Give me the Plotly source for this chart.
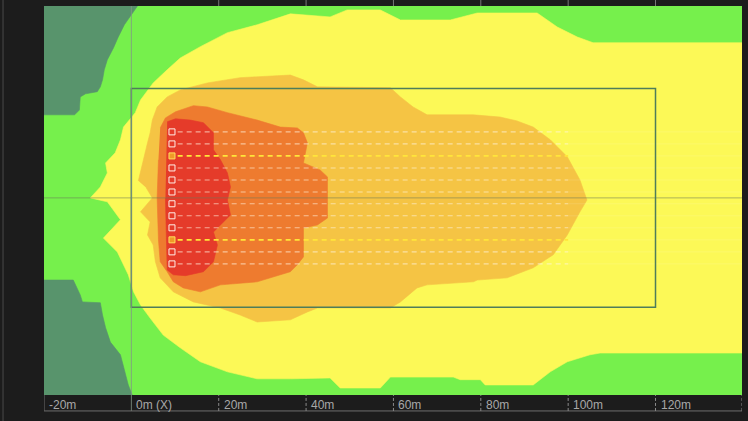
import plotly.graph_objects as go

# ---------------- data (metres) ----------------
# contour boundaries of the illuminance zones
dark_top_x = [-21, 1.8, 1.4, 0.0, -1.6, -3.0, -4.1, -5.5, -6.2, -6.6, -7.1, -7.8, -10.5, -11.7, -11.9, -13.0, -21]
dark_top_y = [46, 46, 43.9, 41.9, 39.6, 36.8, 34.3, 31.6, 29.3, 27.0, 25.4, 24.3, 23.8, 23.1, 20.1, 19.0, 19.0]

dark_bot_x = [-21, -13.3, -11.7, -11.2, -7.1, -6.6, -5.9, -4.8, -2.5, -1.4, -0.7, 0.2, 0.5, -21]
dark_bot_y = [-18.8, -18.8, -22.2, -23.8, -24.0, -26.8, -29.7, -33.0, -35.9, -39.8, -42.8, -45.1, -46, -46]

yellow_x = [141, 105.7, 102.1, 97.5, 92.9, 79.2, 73.0, 61.6, 57.0, 49.4, 45.5, 36.4, 28.8, 22.0, 15.8,
            11.2, 8.2, 5.0, 2.1, 0.9, -1.8, -2.5, -3.7, -5.9, -5.5, -7.1, -9.4, -5.5, -2.5, -6.4,
            -3.2, -2.1, -0.7, 0.5, 2.1, 4.3, 7.3, 11.2, 15.8, 22.0, 28.8, 36.4, 45.5, 47.8, 57.0,
            59.3, 73.7, 75.3, 79.9, 81.0, 92.0, 95.9, 99.8, 105.0, 107.3, 141]
yellow_y = [35.5, 35.5, 36.8, 39.1, 42.3, 42.3, 40.7, 40.7, 43.0, 43.0, 41.4, 42.1, 39.6, 37.8, 34.6,
            32.0, 29.3, 26.3, 22.4, 19.5, 16.2, 13.3, 10.3, 8.0, 5.7, 2.5, 0.0, -0.9, -5.0, -9.2,
            -12.4, -14.6, -17.6, -21.5, -24.5, -27.5, -31.4, -34.3, -37.5, -39.8, -41.4, -41.4, -41.2, -43.5, -43.5,
            -41.0, -41.0, -41.6, -41.6, -42.8, -42.8, -39.8, -37.5, -35.9, -35.5, -35.5]

lorange_x = [1.6, 2.7, 3.7, 4.3, 4.8, 5.9, 8.2, 11.2, 17.4, 24.9, 36.4, 39.4, 42.6, 59.3, 61.6, 64.5,
             67.7, 78.3, 84.4, 88.3, 92.0, 95.9, 99.8, 102.7, 104.3, 102.7, 99.8, 96.6, 92.0, 86.0,
             79.2, 78.3, 67.7, 65.4, 61.6, 59.3, 42.6, 40.3, 36.4, 28.8, 24.9, 20.4, 14.2, 9.6,
             6.6, 5.5, 5.0, 3.7, 4.3, 2.1, 4.8, 3.4]
lorange_y = [3.9, 8.7, 12.6, 14.9, 17.8, 20.8, 23.1, 24.7, 26.3, 27.5, 28.1, 27.0, 25.4, 25.2, 23.1, 20.8,
             19.0, 19.0, 18.5, 17.6, 16.2, 13.3, 9.4, 4.1, -0.5, -3.2, -8.5, -13.0, -16.0, -18.3,
             -18.8, -19.2, -19.9, -20.6, -23.8, -25.2, -25.2, -26.1, -27.9, -28.4, -26.8, -25.2, -23.8, -21.5,
             -18.3, -14.6, -10.8, -8.5, -5.5, -3.2, 0.0, 2.3]

orange_x = [6.6, 7.8, 10.1, 14.2, 17.4, 22.0, 28.8, 34.1, 38.0, 39.4, 40.3, 39.4, 43.2, 44.9, 44.9,
            42.6, 39.4, 39.4, 38.0, 36.4, 28.8, 20.4, 15.8, 11.9, 9.6, 8.2, 6.6, 6.2, 5.9, 6.2]
orange_y = [16.0, 18.3, 19.7, 21.1, 20.8, 19.5, 17.8, 16.2, 16.0, 14.9, 12.6, 8.0, 6.4, 4.8, -4.6,
            -6.2, -6.9, -13.5, -15.3, -16.9, -19.2, -19.9, -21.5, -20.6, -19.2, -16.9, -14.6, -9.6, 0.0, 8.7]

red_x = [8.2, 10.1, 13.5, 16.5, 18.8, 18.8, 20.4, 22.0, 22.7, 22.0, 22.7, 20.4, 18.8, 19.7, 18.8,
         16.5, 12.4, 9.6, 8.2, 7.8]
red_y = [17.4, 18.1, 17.8, 17.2, 14.9, 11.0, 8.7, 5.7, 2.5, -0.5, -3.9, -6.2, -7.8, -10.8, -14.6,
         -16.9, -17.8, -17.6, -16.5, 0.0]

# luminaires
fixture_x = 9.3
fixture_y = [15.1, 12.35, 9.6, 6.85, 4.1, 1.35, -1.35, -4.1, -6.85, -9.6, -12.35, -15.1]
highlighted = [2, 9]
beam_dash_end_x = 100
beam_end_x = 140

# field outline (metres)
field_x = [0, 120]
field_y = [-25, 25]

tick_vals = [-20, 0, 20, 40, 60, 80, 100, 120]
tick_text = ["-20m", "0m (X)", "20m", "40m", "60m", "80m", "100m", "120m"]

x_range = [-20, 139.8]
y_range = [-45.1, 43.9]

# ---------------- styles ----------------
C_DARK = "#58946c"
C_GREEN = "#76f04c"
C_YELLOW = "#fcf957"
C_LORANGE = "#f5c444"
C_ORANGE = "#ee7b2f"
C_RED = "#e53b2a"
BG = "#1c1c1c"

fig = go.Figure()

def zone(xs, ys, color):
    fig.add_trace(go.Scatter(x=xs, y=ys, mode="lines", fill="toself", fillcolor=color,
                             line=dict(width=0.6, color=color), hoverinfo="skip", showlegend=False))

zone(dark_top_x, dark_top_y, C_DARK)
zone(dark_bot_x, dark_bot_y, C_DARK)
zone(yellow_x, yellow_y, C_YELLOW)
zone(lorange_x, lorange_y, C_LORANGE)
zone(orange_x, orange_y, C_ORANGE)
zone(red_x, red_y, C_RED)

# beam lines
for i, fy in enumerate(fixture_y):
    hl = i in highlighted
    fig.add_trace(go.Scatter(
        x=[beam_dash_end_x, beam_end_x], y=[fy, fy], mode="lines",
        line=dict(color="rgba(255,255,255,0.12)", width=1),
        hoverinfo="skip", showlegend=False))
    fig.add_trace(go.Scatter(
        x=[fixture_x + 1.3, beam_dash_end_x], y=[fy, fy], mode="lines",
        line=dict(color="#ffe53a" if hl else "rgba(255,245,225,0.6)", width=1.6 if hl else 1.1,
                  dash="5px,4px"),
        hoverinfo="skip", showlegend=False))

fig.add_trace(go.Scatter(
    x=[fixture_x] * len(fixture_y), y=fixture_y, mode="markers",
    marker=dict(symbol="square", size=6,
                color=["#f09a28" if i in highlighted else C_RED for i in range(len(fixture_y))],
                line=dict(width=1, color=["#ffe060" if i in highlighted else "#fff0e8"
                                          for i in range(len(fixture_y))])),
    hoverinfo="skip", showlegend=False))

shapes = []
# centre line
shapes.append(dict(type="line", xref="x", yref="y", x0=x_range[0], x1=x_range[1], y0=0, y1=0,
                   line=dict(color="rgba(110,120,90,0.55)", width=1), layer="above"))
# field rectangle
shapes.append(dict(type="rect", xref="x", yref="y", x0=field_x[0], x1=field_x[1],
                   y0=field_y[0], y1=field_y[1], line=dict(color="#4e7d5a", width=1.5)))
# 0m line full height into label band
shapes.append(dict(type="line", xref="x", yref="paper", x0=0, x1=0, y0=-0.041, y1=1,
                   line=dict(color="rgba(130,150,135,0.8)", width=1)))
# label band bottom line
shapes.append(dict(type="line", xref="x", yref="paper", x0=x_range[0], x1=x_range[1], y0=-0.041, y1=-0.041,
                   line=dict(color="#6e6e6e", width=1)))
shapes.append(dict(type="line", xref="x", yref="paper", x0=x_range[0], x1=x_range[0], y0=-0.041, y1=0,
                   line=dict(color="#6e6e6e", width=1)))
# dashed tick marks
for v in tick_vals[2:] + [x_range[1]]:
    shapes.append(dict(type="line", xref="x", yref="paper", x0=v, x1=v, y0=-0.041, y1=0,
                       line=dict(color="#8a8a8a", width=1, dash="3px,2px")))
for v in tick_vals[2:]:
    shapes.append(dict(type="line", xref="x", yref="paper", x0=v, x1=v, y0=1.0, y1=1.0154,
                       line=dict(color="#777777", width=1)))
# far-left frame line
shapes.append(dict(type="line", xref="paper", yref="paper", x0=-0.0587, x1=-0.0587, y0=-0.07, y1=1.02,
                   line=dict(color="#4a4a4a", width=1)))

annotations = []
for v, t in zip(tick_vals, tick_text):
    annotations.append(dict(x=v, y=-0.0265, xref="x", yref="paper", text=t, showarrow=False,
                            xanchor="left", yanchor="middle", xshift=3,
                            font=dict(family="Liberation Sans, Arial", size=12, color="#a8a8a8")))

fig.update_layout(
    width=748, height=421,
    margin=dict(l=44, r=6, t=6, b=26),
    paper_bgcolor=BG, plot_bgcolor=C_GREEN,
    xaxis=dict(range=x_range, showgrid=False, zeroline=False, showticklabels=False, ticks="",
               fixedrange=True),
    yaxis=dict(range=y_range, showgrid=False, zeroline=False, showticklabels=False, ticks="",
               fixedrange=True),
    shapes=shapes, annotations=annotations, showlegend=False,
)

fig.write_html("out.html")
